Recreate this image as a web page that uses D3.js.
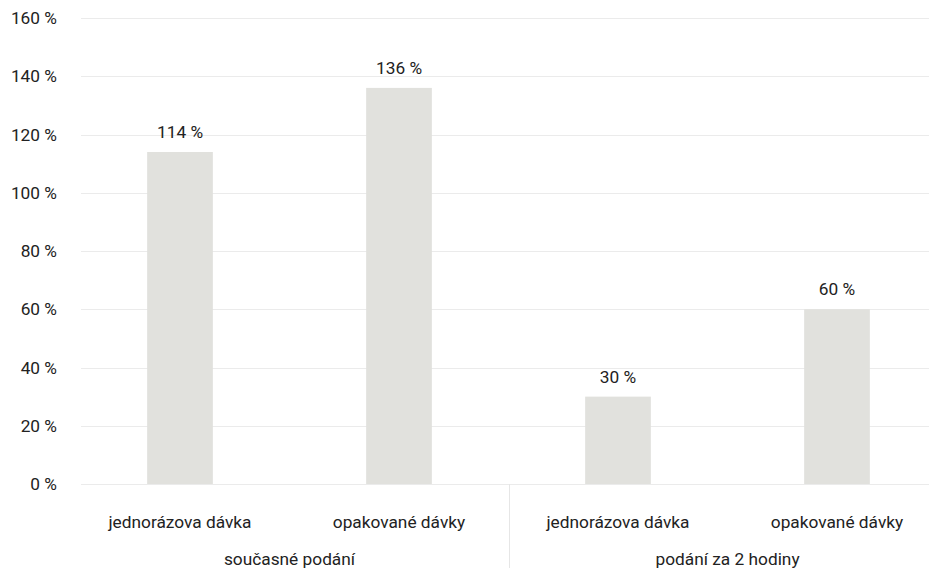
<!DOCTYPE html>
<html>
<head>
<meta charset="utf-8">
<script src="https://cdn.jsdelivr.net/npm/d3@7"></script>
<style>
  html, body { margin: 0; padding: 0; background: #fff; }
  svg { display: block; font-family: Roboto, "Noto Sans", sans-serif; }
</style>
</head>
<body>
<svg id="chart" width="929" height="570"></svg>
<script>
// Categories, grouped by timing of administration
const groups = ["současné podání", "podání za 2 hodiny"];
const categories = ["jednorázova dávka", "opakované dávky", "jednorázova dávka", "opakované dávky"];
const groupOf = [0, 0, 1, 1];
const values = [114, 136, 30, 60];
const yTicks = [0, 20, 40, 60, 80, 100, 120, 140, 160];

const svg = d3.select("#chart");
const W = 929;
const FS = 17.3;
const plot = { left: 70.5, right: 946.5, top: 18, bottom: 484, gridLeft: 81 };

const x = d3.scaleBand()
  .domain(d3.range(categories.length))
  .range([plot.left, plot.right])
  .paddingInner(0)
  .paddingOuter(0);

const y = d3.scaleLinear().domain([0, 160]).range([plot.bottom, plot.top]);

const xGroup = d3.scaleBand()
  .domain(d3.range(groups.length))
  .range([plot.left, plot.right]);

const barW = x.bandwidth() * 0.3;

// Horizontal gridlines
svg.append("g")
  .selectAll("line")
  .data(yTicks)
  .join("line")
  .attr("x1", plot.gridLeft)
  .attr("x2", W)
  .attr("y1", d => Math.round(y(d)) + 0.5)
  .attr("y2", d => Math.round(y(d)) + 0.5)
  .attr("stroke", "#ebebeb")
  .attr("stroke-width", 1);

// Y axis tick labels
svg.append("g")
  .selectAll("text")
  .data(yTicks)
  .join("text")
  .attr("x", 57)
  .attr("y", d => y(d))
  .attr("dy", "0.35em")
  .attr("text-anchor", "end")
  .attr("font-size", FS)
  .attr("fill", "#222")
  .text(d => d + " %");

// Bars
svg.append("g")
  .selectAll("rect")
  .data(values)
  .join("rect")
  .attr("x", (d, i) => x(i) + (x.bandwidth() - barW) / 2)
  .attr("width", barW)
  .attr("y", d => y(d))
  .attr("height", d => y(0) - y(d))
  .attr("fill", "#e1e1dd");

// Value labels
svg.append("g")
  .selectAll("text")
  .data(values)
  .join("text")
  .attr("x", (d, i) => x(i) + x.bandwidth() / 2)
  .attr("y", d => y(d) - 14)
  .attr("text-anchor", "middle")
  .attr("font-size", FS)
  .attr("fill", "#222")
  .text(d => d + " %");

// Category labels
svg.append("g")
  .selectAll("text")
  .data(categories)
  .join("text")
  .attr("x", (d, i) => x(i) + x.bandwidth() / 2)
  .attr("y", 528)
  .attr("text-anchor", "middle")
  .attr("font-size", FS)
  .attr("fill", "#222")
  .text(d => d);

// Group separator
svg.append("line")
  .attr("x1", Math.round(xGroup(1)) + 0.5)
  .attr("x2", Math.round(xGroup(1)) + 0.5)
  .attr("y1", plot.bottom)
  .attr("y2", 568)
  .attr("stroke", "#e6e6e6");

// Group labels
svg.append("g")
  .selectAll("text")
  .data(groups)
  .join("text")
  .attr("x", (d, i) => xGroup(i) + xGroup.bandwidth() / 2)
  .attr("y", 565)
  .attr("text-anchor", "middle")
  .attr("font-size", FS)
  .attr("fill", "#222")
  .text(d => d);
</script>
</body>
</html>
